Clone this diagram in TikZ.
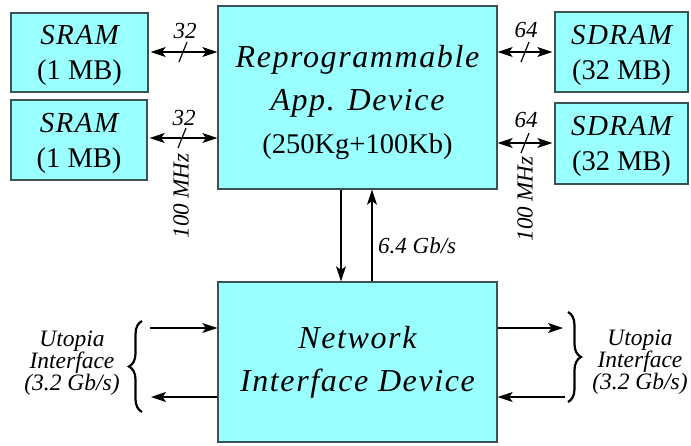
\documentclass[tikz,border=0pt]{standalone}
\usepackage{fontspec}
\setmainfont{Liberation Serif}
\newfontfamily\spacedA{Liberation Serif}[LetterSpace=5]
\newfontfamily\spacedB{Liberation Serif}[LetterSpace=5]
\usetikzlibrary{arrows.meta,decorations.pathreplacing}

\definecolor{boxfill}{RGB}{153,255,255}
\definecolor{boxedge}{RGB}{60,82,82}

% italic block titles, lightly letter-spaced
\newcommand{\memname}[1]{{\fontsize{29}{35}\selectfont\spacedA\itshape\rule{0pt}{26pt}#1}}
\newcommand{\devname}[1]{{\fontsize{32}{43}\selectfont\spacedB\itshape #1}}

\begin{document}
\begin{tikzpicture}[x=1pt,y=-1pt,
  block/.style={draw=boxedge, fill=boxfill, line width=1.3pt, inner sep=0pt,
    align=center, font=\fontsize{28.5}{35}\selectfont},
  bigblock/.style={block, font=\fontsize{28.5}{43}\selectfont},
  tip/.tip={Stealth[length=15pt,width=10pt,inset=3.5pt]},
  link/.style={line width=1.2pt, -tip},
  duplex/.style={line width=1.2pt, tip-tip},
  busmark/.style={line width=1.2pt},
  note/.style={font=\fontsize{23}{23}\selectfont\itshape, inner sep=0pt},
  side/.style={font=\fontsize{23.5}{21.5}\selectfont\itshape, align=center, inner sep=0pt},
  curly/.style={decorate, decoration={brace, amplitude=13pt}, line width=2.2pt}
]
\useasboundingbox (0,0) rectangle (691,445);

% memory and device blocks
\node[block, minimum width=137pt, minimum height=79pt] (sram1) at (79.5,52.5)
  {\memname{SRAM}\\(1 MB)};
\node[block, minimum width=136pt, minimum height=80pt] (sram2) at (79,140)
  {\memname{SRAM}\\(1 MB)};
\node[bigblock, minimum width=279pt, minimum height=183pt] (main) at (357.5,97.5)
  {\devname{\rule{0pt}{33pt}Reprogrammable}\\\devname{App. Device}\\(250Kg+100Kb)};
\node[block, minimum width=133pt, minimum height=80pt] (sdram1) at (621.5,52)
  {\memname{SDRAM}\\(32 MB)};
\node[block, minimum width=133pt, minimum height=81pt] (sdram2) at (621.5,143.5)
  {\memname{SDRAM}\\(32 MB)};
\node[bigblock, minimum width=279pt, minimum height=160pt] (net) at (357.5,362)
  {\devname{Network}\\\devname{Interface Device}};

% SRAM buses
\draw[duplex, shorten <=2pt] (sram1.east |- 0,52) -- (main.west |- 0,52);
\draw[busmark] (187,42) -- (179,62);
\node[note] (w1) at (185,31) {32};
\draw[duplex, shorten <=2pt] (sram2.east |- 0,138) -- (main.west |- 0,138);
\draw[busmark] (186,128) -- (178,148);
\node[note] (w2) at (184,118) {32};
\node[note, rotate=90] (f1) at (181,196) {100 MHz};

% SDRAM buses
\draw[duplex, shorten >=2pt] (main.east |- 0,52) -- (sdram1.west |- 0,52);
\draw[busmark] (529,42) -- (521,62);
\node[note] (w3) at (526,30) {64};
\draw[duplex, shorten >=2pt] (main.east |- 0,143) -- (sdram2.west |- 0,143);
\draw[busmark] (529,133) -- (521,153);
\node[note] (w4) at (526,120) {64};
\node[note, rotate=90] (f2) at (525,199) {100 MHz};

% link between the two devices
\draw[link] ([xshift=-16.5pt]main.south) -- ([xshift=-16.5pt]net.north);
\draw[link] ([xshift=14.5pt]net.north) -- ([xshift=14.5pt]main.south);
\node[note, anchor=west] (rate) at (378,246) {6.4 Gb/s};

% Utopia ports
\coordinate (lin) at (150,328);
\coordinate (lout) at (151,397);
\coordinate (rout) at (563,328);
\coordinate (rin) at (565,397);
\draw[link] (lin) -- (lin -| net.west);
\draw[link] (lout -| net.west) -- (lout);
\draw[link] (rout -| net.east) -- (rout);
\draw[link] (rin) -- (rin -| net.east);

\draw[curly] (142,412) -- (142,321);
\draw[curly] (568,312) -- (568,402);
\node[side] (utl) at (72,363) {Utopia\\Interface\\(3.2 Gb/s)};
\node[side] (utr) at (640,362) {Utopia\\Interface\\(3.2 Gb/s)};
\end{tikzpicture}
\end{document}
